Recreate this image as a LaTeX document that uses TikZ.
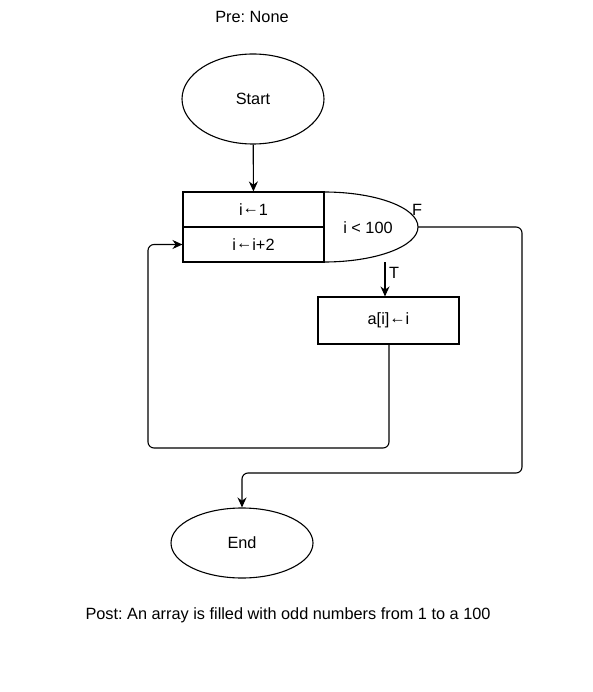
\documentclass[tikz,border=0pt]{standalone}
\usepackage{fontspec}
\setmainfont{Liberation Sans}
\usetikzlibrary{arrows.meta,shapes.geometric}
\newcommand{\asg}{\raisebox{1.5pt}{←}}
\begin{document}
\frenchspacing
\begin{tikzpicture}[x=1pt,y=-1pt,
  every node/.style={font=\fontsize{16.3}{19}\selectfont},
  box/.style={draw,line width=1.1pt,rectangle,inner sep=0pt,minimum width=141pt},
  term/.style={draw,line width=1.1pt,ellipse,inner sep=0pt,minimum width=142pt},
  link/.style={line width=1.1pt,rounded corners=6pt,-{Stealth[length=10pt,width=9pt]}}]
\useasboundingbox (0,0) rectangle (593,692);

\node (pre) at (252,17) {Pre: None};
\node[term,minimum height=90pt] (start) at (253,99) {Start};

% loop header: initialisation and increment
\node[box,minimum height=35pt] (init) at (253.5,209.5) {i\asg1};
\node[box,minimum height=35pt] (incr) at (253.5,244.5) {i\asg i+2};

% condition
\coordinate (ctop) at (324,192);
\draw[line width=1.1pt] (ctop) arc[start angle=90,end angle=-90,x radius=94pt,y radius=35pt];
\coordinate (cright) at (418,227);
\coordinate (cT) at (385,262);
\node (cond) at (368,228) {i < 100};
\node (flab) at (417,210) {F};
\node (tlab) at (394,273) {T};

% loop body
\node[box,minimum height=47pt] (body) at (388.5,320.5) {a[i]\asg i};

\node[term,minimum height=70pt] (end) at (242,543) {End};

\node (post) at (288,615) {Post: An array is filled with odd numbers from 1 to a 100};

% connectors
\draw[link] (start) -- (init);
\draw[link] (cT) -- (body.north -| cT);
\draw[link] ([xshift=0.5pt]body.south) |- (148,448) |- (incr.west);
\draw[link] (cright) -| (522,473) -| (end.north);
\end{tikzpicture}
\end{document}
